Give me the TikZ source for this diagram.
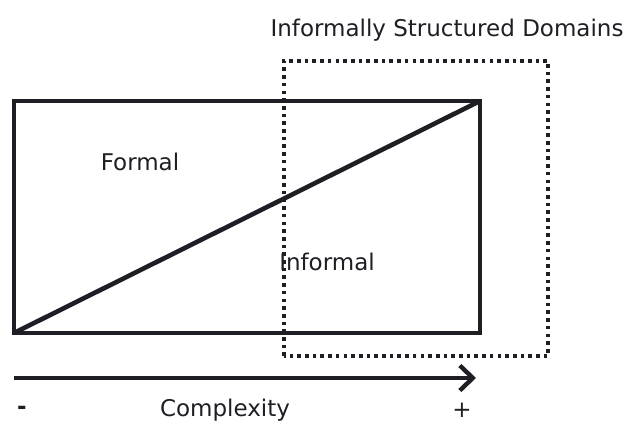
\documentclass[tikz,border=0pt]{standalone}
\usepackage{fontspec}
\setmainfont{DejaVu Sans}
\usepackage{tikz}
\usetikzlibrary{arrows.meta, positioning}
\definecolor{Diag_Ink}{HTML}{1E1E24}

\begin{document}
\begin{tikzpicture}[x=0.5pt, y=-0.5pt, font=\fontsize{11.5}{13}\selectfont, text=Diag_Ink]
    \useasboundingbox (0,0) rectangle (638,433);

    % Formal / informal box with its diagonal
    \coordinate (boxSW) at (14,333);
    \coordinate (boxNE) at (480,101);
    \draw[line width=2.3pt, Diag_Ink] (boxSW) rectangle (boxNE);
    \draw[line width=2.3pt, Diag_Ink] (boxSW) -- (boxNE);

    % Dotted domain frame
    \coordinate (domSW) at (284,356);
    \coordinate (domNE) at (548,61);
    \draw[line width=1.9pt, Diag_Ink, dash pattern=on 1.8pt off 2.05pt] (domSW) rectangle (domNE);
    \node (domTitle) at (447,30) {Informally Structured Domains};

    % Region labels
    \node (formal) at (140,162) {Formal};
    \node (informal) at (327,262) {Informal};

    % Complexity axis
    \coordinate (axStart) at (14,378);
    \coordinate (axEnd) at (476,378);
    \draw[-{Straight Barb[length=6.5pt, width=12.5pt, line width=2.2pt]}, line width=2pt, Diag_Ink] (axStart) -- (axEnd);
    \node (axMinus) at (22,410) {\textbf{-}};
    \node (axLabel) at (225,410) {Complexity};
    \node (axPlus) at (462,410) {+};
\end{tikzpicture}
\end{document}
